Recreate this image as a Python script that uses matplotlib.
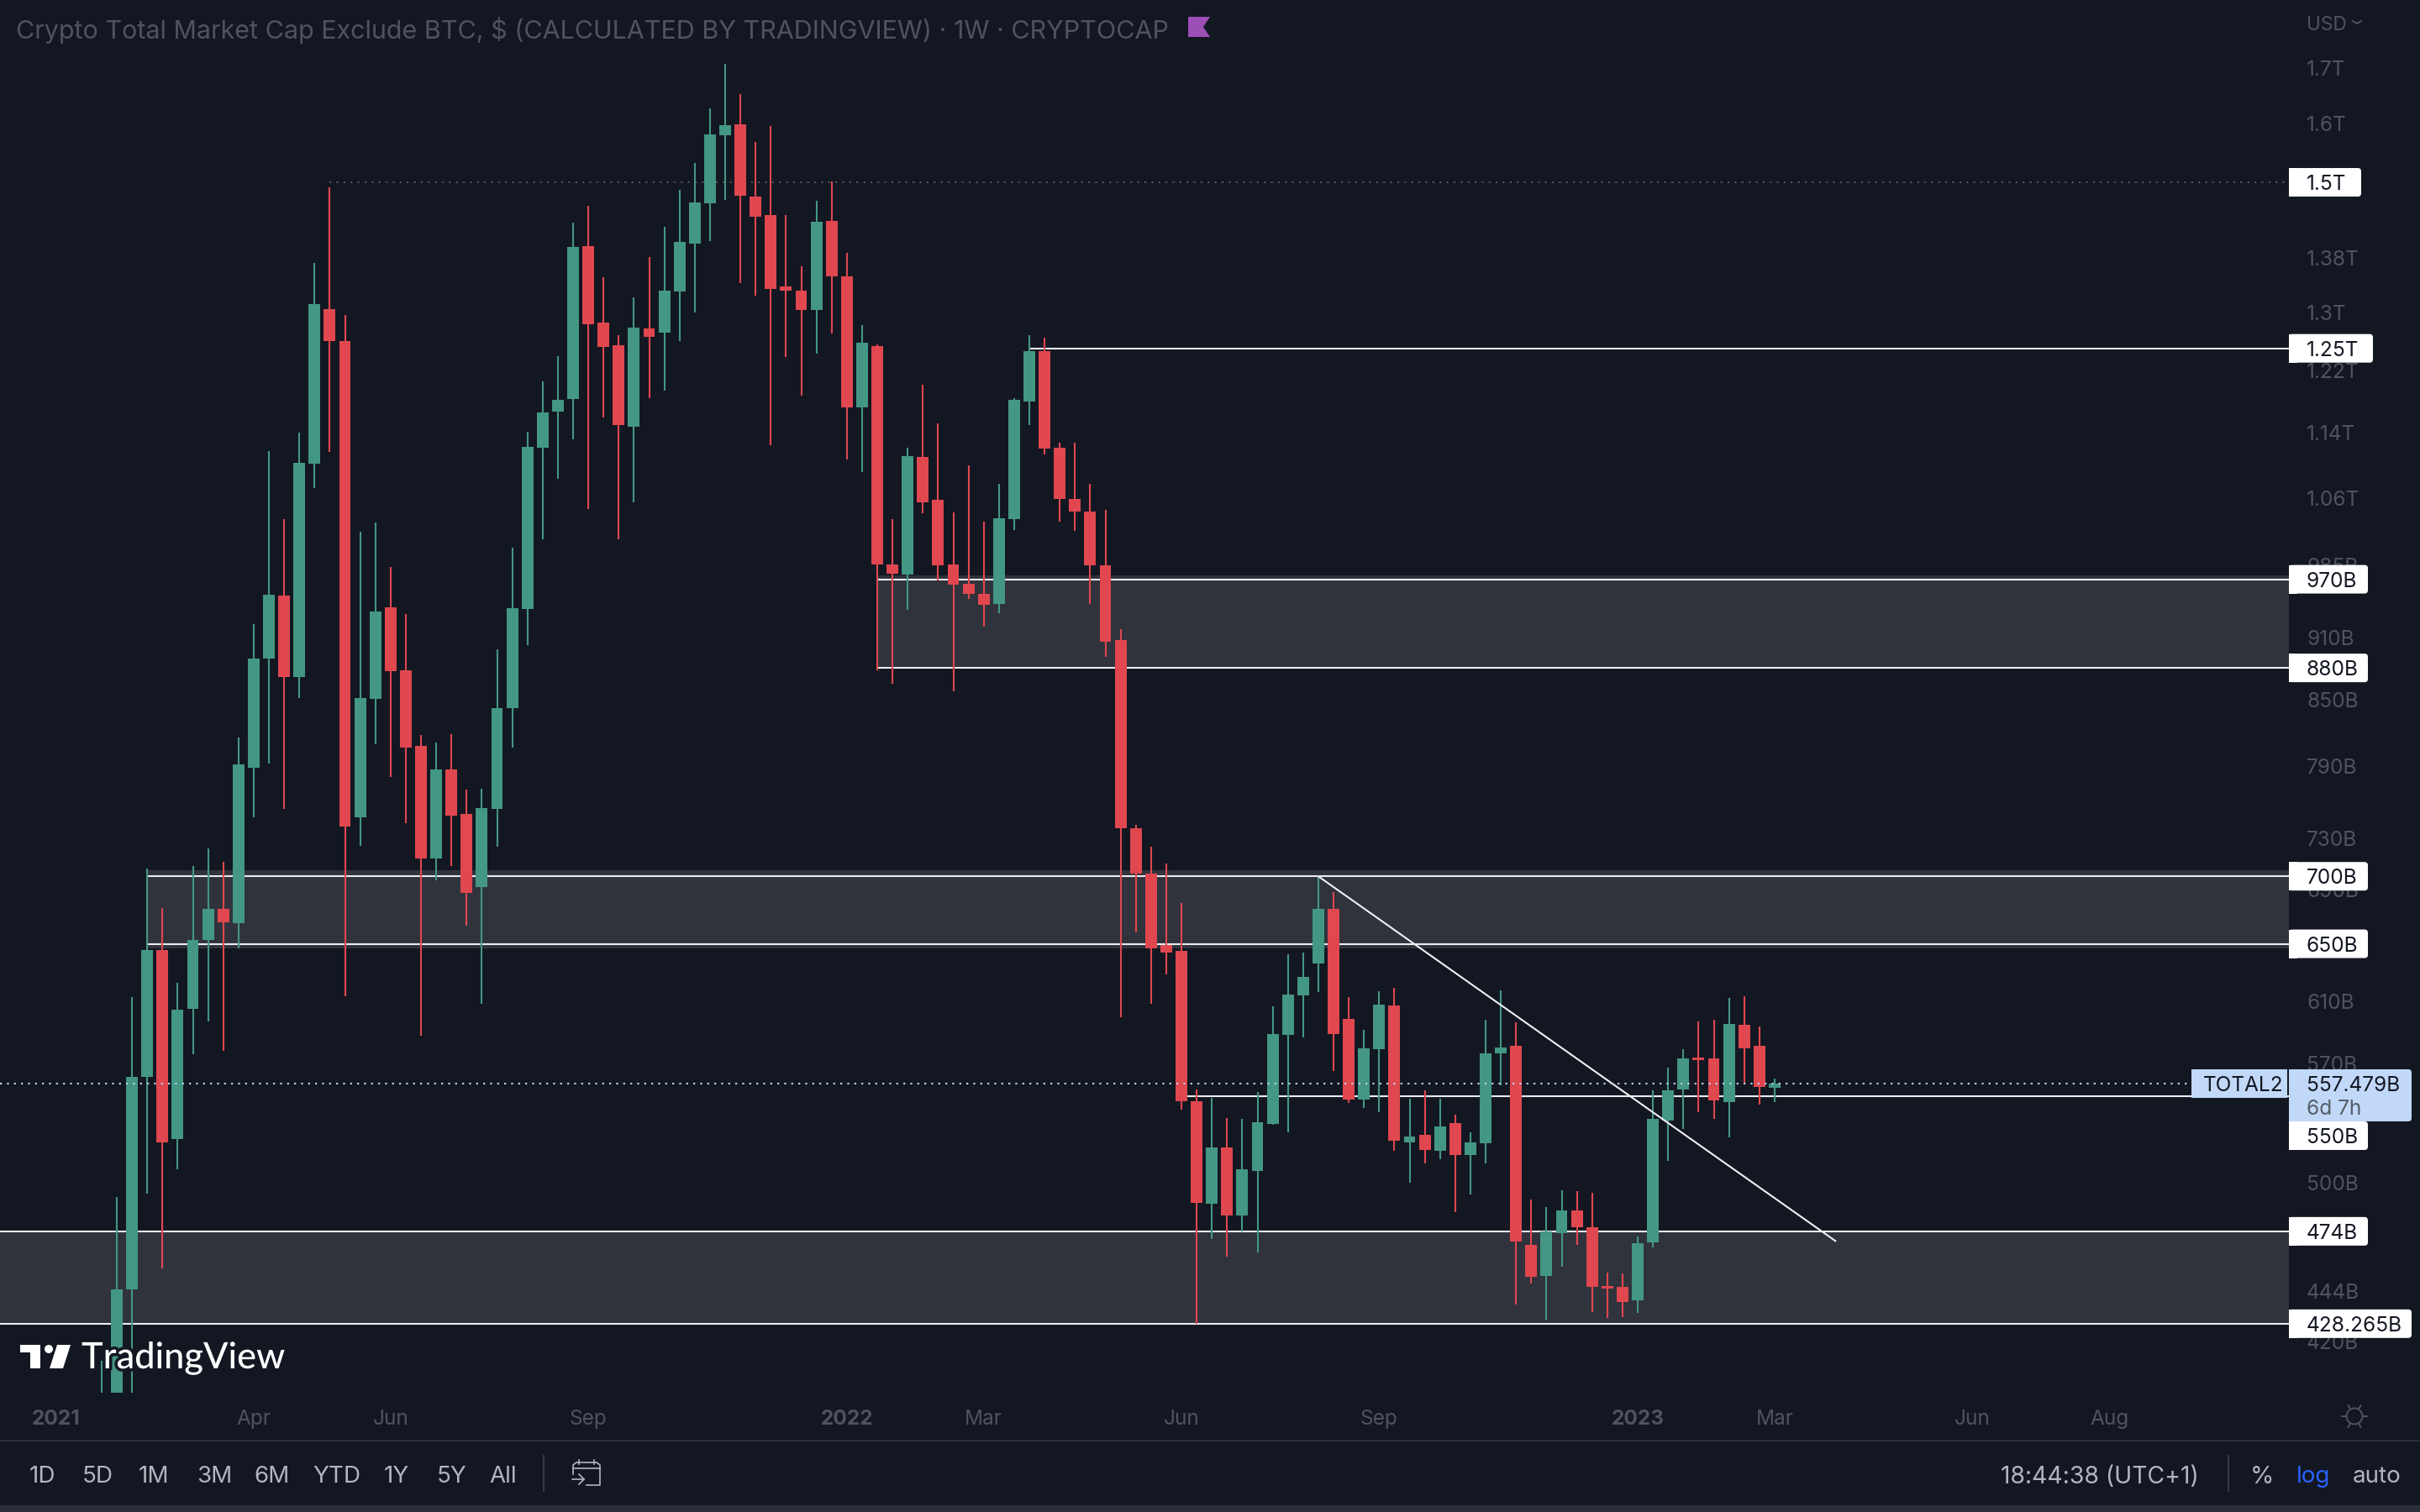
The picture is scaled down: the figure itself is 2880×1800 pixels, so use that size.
import numpy as np
import matplotlib
matplotlib.use("Agg")
import matplotlib.pyplot as plt
import matplotlib.patheffects as pe
from matplotlib.patches import Rectangle, Polygon, Circle, FancyBboxPatch

plt.rcParams['font.family'] = ['Inter', 'DejaVu Sans']

# weekly candles, values in billions, first candle sits one week before "index 0"
opens = [382, 389, 444.6, 561.5, 645.5, 524.5, 605, 652.6, 675.3, 664.8,
         788.5, 889, 952.7, 871, 1101, 1305, 1260, 747, 850.5, 940.6,
         877.6, 807.9, 713.8, 787, 749.6, 691.8, 753.7, 842, 939, 1121,
         1166, 1182, 1398, 1286, 1254, 1147, 1277.5, 1271.7, 1330.5, 1402,
         1466, 1580, 1598.6, 1477, 1447, 1338, 1332, 1304, 1438, 1353,
         1171, 1253, 985.8, 974.8, 1109, 1058, 985.8, 965, 954.5, 944,
         1036, 1179, 1246, 1121, 1059.4, 1045, 985, 907, 738, 702,
         649, 645, 546.7, 488.5, 519.6, 482.2, 506.4, 533.2, 588, 614,
         636, 675.3, 598.5, 547.7, 579, 607.4, 522.5, 527, 518, 533.7,
         515.2, 522, 576.3, 581, 467.1, 451.2, 473.1, 484.8, 476.1, 446.3,
         445.9, 439.3, 468.3, 535.2, 553.9, 573.5, 573, 546.2, 594.7, 581,
         554.8]
highs = [411, 492, 613, 706, 676, 622.7, 708, 722, 711, 815,
         923, 1117, 1036, 1139, 1373, 1492, 1297, 1022, 1032, 983,
         934, 817.5, 810.6, 818, 770, 770.6, 898, 1004, 1140.5, 1205.5,
         1239, 1435, 1462, 1352, 1268, 1322, 1382, 1429, 1488, 1532,
         1627, 1709, 1653, 1567.5, 1596, 1447, 1368, 1470, 1501, 1388,
         1282, 1255, 1036, 1121, 1201, 1151, 1044, 1099, 1033, 1077,
         1183, 1268, 1265, 1127, 1127, 1077, 1047, 918, 741, 723,
         710, 680, 553.8, 548.7, 536.7, 536.2, 552.3, 606.8, 642.5, 643.7,
         701, 688, 613, 591.4, 617, 619.3, 548.2, 553.4, 548.2, 538.7,
         528.4, 597.9, 617.6, 596.3, 490.7, 486.6, 495.7, 495.2, 494.3, 453,
         452.6, 471.3, 553.4, 567.2, 579, 596.8, 597.9, 612.5, 613.6, 593.6,
         560.5]
lows = [375, 382, 394, 494, 455, 507.3, 576, 597, 578, 647,
        747, 792, 754, 851, 1072, 1115.5, 613.6, 724, 809, 780.5,
        742, 587.5, 697, 708, 663, 608.5, 723, 806.5, 902, 1013.5,
        1083, 1131, 1048, 1158.5, 1013.5, 1056, 1183, 1193, 1260, 1300,
        1406, 1471, 1343, 1324, 1124, 1238, 1186.5, 1243, 1270.5, 1106,
        1091, 877.6, 864.6, 938, 1043, 969, 858, 949, 921, 934.5,
        1023.5, 1149, 1112, 1033, 1022.6, 944, 891, 599.5, 658, 608.5,
        628.5, 542, 428.3, 470, 461, 474, 463, 532.7, 528.4, 586.4,
        616.4, 565, 545.6, 543, 540.3, 518, 499.9, 510.6, 512.9, 484,
        493.5, 510.6, 556.4, 437.3, 447.4, 430, 455.8, 467.1, 433.7, 430.8,
        431.2, 433.3, 465.7, 512, 530.3, 540.3, 536.2, 525.5, 557.4, 544.6,
        546.2]
closes = [392.5, 444.6, 561.5, 645.5, 522.5, 604.6, 652.6, 675.3, 665.4, 791.5,
          889, 953.6, 871, 1102.3, 1312, 1260, 739, 851, 936, 876.8,
          806.5, 713.8, 787, 748.2, 687.3, 754.5, 842, 939.8, 1122, 1165,
          1181, 1397, 1283.5, 1252, 1149, 1279, 1266, 1332, 1405, 1467,
          1581, 1597, 1478, 1444, 1334, 1332, 1304, 1436, 1353, 1171,
          1258, 986, 975.7, 1110, 1055.4, 985, 964, 954.5, 943, 1037,
          1181, 1246, 1120, 1059.4, 1045, 985, 906, 738, 702, 647,
          643.7, 547, 488.9, 519.6, 482.2, 507.3, 534.2, 588.6, 614.6, 626.7,
          675.3, 588.6, 547.7, 579.5, 608, 523.5, 526, 518.5, 532, 515.2,
          522.5, 576.3, 580, 468.5, 450.8, 474, 485.2, 476.1, 445.9, 445,
          438.5, 467.9, 536.2, 553.4, 573, 571.9, 547.2, 595.2, 579.5, 555.3,
          557.479]
weeks = np.arange(-1, 110)

price_ticks = [1700, 1600, 1380, 1300, 1220, 1140, 1060, 985, 910, 850, 790, 730,
               690, 610, 570, 500, 444, 420]
price_tick_labels = ['1.7T', '1.6T', '1.38T', '1.3T', '1.22T', '1.14T', '1.06T', '985B',
                     '910B', '850B', '790B', '730B', '690B', '610B', '570B', '500B', '444B', '420B']
time_ticks = [-4, 9, 18, 31, 48, 57, 70, 83, 100, 109, 122, 131]
time_tick_labels = ['2021', 'Apr', 'Jun', 'Sep', '2022', 'Mar', 'Jun', 'Sep', '2023', 'Mar', 'Jun', 'Aug']

# zones: first week, top, bottom
zone_starts = [50, 2, None]
zone_tops = [974, 704.5, 474]
zone_bottoms = [880, 647, 428.265]
# levels drawn as white lines: first week (None = from the left edge), price
level_starts = [60, 50, 50, 2, 2, 70, None, None]
level_prices = [1250, 970, 880, 700, 650, 550, 474, 428.265]
trend_weeks = [79, 113]
trend_prices = [700, 469]
ath_level = 1500
last_price = 557.479

BG = '#131722'
GREEN = '#439783'
RED = '#E0474F'
ZONE = '#30333C'
MUTED = '#50535E'
UI_TEXT = '#B2B5BE'
AXIS_SIZE = 8.8

W, H = 2880, 1800
fig = plt.figure(figsize=(14.4, 9), dpi=200, facecolor=BG)
ax = fig.add_axes([0, 1 - 1658 / H, 2724 / W, 1658 / H], facecolor=BG)
ax.set_yscale('log')
x0 = (0 - 139) / 18.1
x1 = (2724 - 139) / 18.1
ax.set_xlim(x0, x1)
ax.set_ylim(397.0, 1832.5)
for s in ax.spines.values():
    s.set_visible(False)

for st, top, bot in zip(zone_starts, zone_tops, zone_bottoms):
    left = x0 if st is None else st
    ax.fill_between([left, x1], bot, top, color=ZONE, lw=0, zorder=1)
for st, p in zip(level_starts, level_prices):
    left = x0 if st is None else st
    ax.plot([left, x1], [p, p], color='#ECECEE', lw=0.75, zorder=2, solid_capstyle='butt')
ax.plot([14, x1], [ath_level, ath_level], color=MUTED, lw=0.7, ls=(0, (1.2, 3.1)), zorder=2)

opens_a, highs_a, lows_a, closes_a = map(np.array, (opens, highs, lows, closes))
colors = np.where(closes_a >= opens_a, GREEN, RED)
ax.vlines(weeks, lows_a, highs_a, colors=colors, lw=0.75, zorder=3)
ax.bar(weeks, np.abs(closes_a - opens_a), bottom=np.minimum(opens_a, closes_a), width=0.77,
       color=colors, lw=0, zorder=4)

ax.plot(trend_weeks, trend_prices, color='#F0F0F0', lw=0.75, zorder=5)
ax.plot([x0, (2608 - 139) / 18.1], [last_price, last_price], color='#B9D0F2', lw=0.75,
        ls=(0, (1.1, 2.9)), zorder=5)

ax.yaxis.tick_right()
ax.set_yticks(price_ticks, price_tick_labels)
ax.minorticks_off()
ax.tick_params(axis='y', which='both', length=0, pad=7.6, labelcolor=MUTED, labelsize=AXIS_SIZE)
ax.set_xticks(time_ticks, time_tick_labels)
ax.tick_params(axis='x', length=0, pad=7.3, labelcolor=MUTED, labelsize=AXIS_SIZE)
for lab in ax.get_xticklabels():
    if lab.get_text().startswith('20'):
        lab.set_fontweight('bold')

# overlay in picture pixels for the TradingView furniture
ui = fig.add_axes([0, 0, 1, 1], facecolor='none')
ui.set_xlim(0, W)
ui.set_ylim(H, 0)
ui.axis('off')


def price_y(p):
    return H - ax.transData.transform((0, p))[1]


def box(x_right, y_top, y_bot, color):
    ui.add_patch(FancyBboxPatch((2724, y_top), x_right - 2724, y_bot - y_top, fc=color, ec='none',
                                boxstyle='round,pad=0,rounding_size=4', mutation_aspect=1, zorder=6))
    ui.add_patch(Rectangle((2724, y_top), 10, y_bot - y_top, fc=color, ec='none', zorder=6))


def level_label(text, p, x_right, y_center=None):
    y = price_y(p) if y_center is None else y_center
    box(x_right, y - 17, y + 17, 'white')
    ui.text(2745, y, text, color='#131722', fontsize=AXIS_SIZE, va='center_baseline', zorder=7)


level_label('1.5T', ath_level, 2810)
level_label('1.25T', 1250, 2824)
level_label('970B', 970, 2818)
level_label('880B', 880, 2818)
level_label('700B', 700, 2818)
level_label('650B', 650, 2818)
level_label('474B', 474, 2818)
level_label('428.265B', 428.265, 2870)

# last price labels
y_last = price_y(last_price)
box(2870, y_last - 17, y_last + 45, '#C1D8F9')
ui.add_patch(Rectangle((2608, y_last - 17), 114, 34, fc='#C1D8F9', ec='none', zorder=6))
ui.text(2622, y_last, 'TOTAL2', color='#131722', fontsize=AXIS_SIZE, va='center_baseline', zorder=7)
ui.text(2745, y_last, '557.479B', color='#131722', fontsize=AXIS_SIZE, va='center_baseline', zorder=7)
ui.text(2745, y_last + 28, '6d 7h', color='#565C68', fontsize=AXIS_SIZE, va='center_baseline', zorder=7)
level_label('550B', 550, 2818, y_center=1352)

# header
ui.text(19, 33, 'Crypto Total Market Cap Exclude BTC, $ (CALCULATED BY TRADINGVIEW) · 1W · CRYPTOCAP',
        color=MUTED, fontsize=10.98, va='center_baseline')
ui.add_patch(Polygon([(1414, 20), (1440, 20), (1432, 32), (1440, 44), (1414, 44)], fc='#9C4FB5', ec='none'))
ui.text(2745, 27, 'USD', color=MUTED, fontsize=8.2, va='center_baseline')
ui.plot([2800, 2805, 2810], [25, 28, 25], color=MUTED, lw=0.7)

# watermark
halo = [pe.withStroke(linewidth=2.6, foreground=BG)]
ui.text(97, 1617, 'TradingView', color='white', fontsize=15.6, family='Lato', weight='medium',
        va='center', path_effects=halo, zorder=7)
ui.add_patch(Polygon([(24, 1601), (48, 1601), (48, 1629), (36, 1629), (36, 1610), (24, 1610)],
                     fc='white', ec='none', zorder=7))
ui.add_patch(Circle((58, 1606), 5, fc='white', ec='none', zorder=7))
ui.add_patch(Polygon([(68, 1601), (84, 1601), (75, 1629), (59, 1629)], fc='white', ec='none', zorder=7))

# bottom toolbar
ui.add_patch(Rectangle((0, 1714), W, 2, fc='#2A2E39', ec='none'))
ui.add_patch(Rectangle((0, 1792), W, 8, fc='#2A2E39', ec='none'))
range_labels = ['1D', '5D', '1M', '3M', '6M', 'YTD', '1Y', '5Y', 'All']
range_x = [35, 98, 165, 234, 302, 372, 457, 520, 582]
for lab, xp in zip(range_labels, range_x):
    ui.text(xp, 1755, lab, color=UI_TEXT, fontsize=10, va='center_baseline')
ui.add_patch(Rectangle((646, 1732), 2, 44, fc='#363A45', ec='none'))
ui.add_patch(Rectangle((2651, 1732), 2, 44, fc='#363A45', ec='none'))
# calendar icon
ui.plot([682, 682, 686, 710, 714, 714, 710, 698], [1755, 1744, 1741, 1741, 1744, 1768, 1768, 1768],
        color=UI_TEXT, lw=0.6)
ui.plot([682, 714], [1748, 1748], color=UI_TEXT, lw=0.6)
ui.plot([689, 689], [1738, 1743], color=UI_TEXT, lw=0.6)
ui.plot([707, 707], [1738, 1743], color=UI_TEXT, lw=0.6)
ui.plot([681, 695], [1761, 1761], color=UI_TEXT, lw=0.6)
ui.plot([689, 695, 689], [1755, 1761, 1767], color=UI_TEXT, lw=0.6)

ui.text(2381, 1755, '18:44:38 (UTC+1)', color=UI_TEXT, fontsize=10.2, va='center_baseline')
ui.text(2692, 1755, '%', color=UI_TEXT, fontsize=10.4, ha='center', va='center_baseline')
ui.text(2753, 1755, 'log', color='#2962FF', fontsize=10, ha='center', va='center_baseline')
ui.text(2829, 1755, 'auto', color=UI_TEXT, fontsize=10, ha='center', va='center_baseline')

# sun icon
ui.add_patch(Circle((2802, 1686), 9.5, fc='none', ec=MUTED, lw=0.7))
for a in np.deg2rad(np.arange(0, 360, 60)):
    ui.plot([2802 + 11 * np.cos(a), 2802 + 15 * np.cos(a)], [1686 + 11 * np.sin(a), 1686 + 15 * np.sin(a)],
            color=MUTED, lw=0.7)

fig.savefig('out.png', dpi=200, facecolor=BG)
